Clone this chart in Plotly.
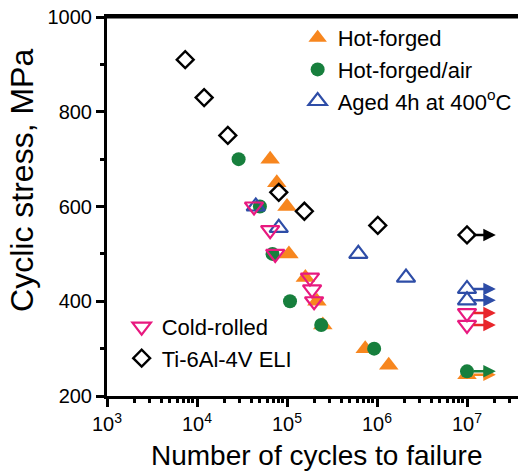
import numpy as np
import plotly.graph_objects as go

# ---------------- data ----------------
# Hot-forged (filled orange triangles)
hf_n = [6.5e4, 7.7e4, 1.0e5, 1.05e5, 1.6e5, 2.15e5, 2.5e5, 7.4e5, 1.35e6, 1.0e7]
hf_s = [700, 650, 600, 500, 450, 400, 350, 300, 265, 245]
hf_runout = [False, False, False, False, False, False, False, False, False, True]

# Hot-forged/air (filled green circles)
hfa_n = [2.9e4, 5.0e4, 6.9e4, 1.08e5, 2.4e5, 9.3e5, 1.0e7]
hfa_s = [700, 600, 500, 400, 350, 300, 252]
hfa_runout = [False, False, False, False, False, False, True]

# Aged 4h at 400 C (open blue triangles)
ag_n = [4.5e4, 8.1e4, 6.2e5, 2.1e6, 1.0e7, 1.0e7]
ag_s = [600, 555, 500, 450, 426, 402]
ag_runout = [False, False, False, False, True, True]

# Cold-rolled (open pink inverted triangles)
cr_n = [4.3e4, 6.5e4, 7.4e4, 1.8e5, 1.9e5, 2.0e5, 1.0e7, 1.0e7]
cr_s = [600, 550, 500, 450, 425, 400, 375, 350]
cr_runout = [False, False, False, False, False, False, True, True]

# Ti-6Al-4V ELI (open black diamonds)
ti_n = [7.4e3, 1.2e4, 2.2e4, 8.1e4, 1.56e5, 1.02e6, 1.0e7]
ti_s = [910, 830, 750, 630, 590, 560, 540]
ti_runout = [False, False, False, False, False, False, True]

x_tick_vals = [1e3, 1e4, 1e5, 1e6, 1e7]
x_tick_text = ["10<sup>3</sup>", "10<sup>4</sup>", "10<sup>5</sup>", "10<sup>6</sup>", "10<sup>7</sup>"]
y_tick_vals = [200, 400, 600, 800, 1000]
x_title = "Number of cycles to failure"
y_title = "Cyclic stress, MPa"

# ---------------- styles ----------------
ORANGE = "#F7861E"
GREEN = "#177F3D"
BLUE = "#2E4DA7"
PINK = "#E8197F"
RED = "#E8262B"
BLACK = "#000000"
FONT = "Liberation Sans, Arial, sans-serif"
ARROW_DECADES = 0.32

fig = go.Figure()

series = [
    ("Hot-forged", hf_n, hf_s, dict(symbol="triangle-up", size=17, color=ORANGE), "legend"),
    ("Hot-forged/air", hfa_n, hfa_s, dict(symbol="circle", size=14, color=GREEN), "legend"),
    ("Aged 4h at 400<sup>o</sup>C", ag_n, ag_s,
     dict(symbol="triangle-up-open", size=16, color=BLUE, line=dict(width=2.2, color=BLUE)), "legend"),
    ("Cold-rolled", cr_n, cr_s,
     dict(symbol="triangle-down-open", size=16, color=PINK, line=dict(width=2.2, color=PINK)), "legend2"),
    ("Ti-6Al-4V ELI", ti_n, ti_s,
     dict(symbol="diamond-open", size=13, color=BLACK, line=dict(width=2.4, color=BLACK)), "legend2"),
]

for name, xs, ys, mk, lg in series:
    fig.add_trace(go.Scatter(x=xs, y=ys, mode="markers", name=name, marker=mk,
                             legend=lg, cliponaxis=False))

# run-out arrows
runouts = [
    (hf_n, hf_s, hf_runout, ORANGE),
    (hfa_n, hfa_s, hfa_runout, GREEN),
    (ag_n, ag_s, ag_runout, BLUE),
    (cr_n, cr_s, cr_runout, RED),
    (ti_n, ti_s, ti_runout, BLACK),
]
annotations = []
for xs, ys, flags, col in runouts:
    for xv, yv, f in zip(xs, ys, flags):
        if f:
            lx = float(np.log10(xv))
            annotations.append(dict(
                x=lx + ARROW_DECADES, y=yv, ax=lx, ay=yv,
                xref="x", yref="y", axref="x", ayref="y",
                showarrow=True, arrowhead=2, arrowsize=1.0, arrowwidth=2.5,
                arrowcolor=col, startstandoff=5, text=""))

# axis titles as annotations (the y title sits above the axis centre)
annotations.append(dict(text=x_title, xref="paper", yref="paper", x=0.5, y=-0.156,
                        xanchor="center", yanchor="middle", showarrow=False,
                        font=dict(size=28, family=FONT, color="black")))
annotations.append(dict(text=y_title, xref="paper", yref="paper", x=-0.203, y=0.57,
                        xanchor="center", yanchor="middle", showarrow=False, textangle=-90,
                        font=dict(size=32, family=FONT, color="black")))

# the page body adds an 8 px offset, so the figure is 8 px smaller / margins 8 px less
fig.update_layout(
    width=518, height=463,
    margin=dict(l=99, r=0, t=9, b=75, autoexpand=False),
    paper_bgcolor="white", plot_bgcolor="white",
    font=dict(family=FONT, color="black", size=20),
    annotations=annotations,
    shapes=[dict(type="line", xref="paper", yref="paper", x0=0, x1=1, y0=1, y1=1,
                 line=dict(color="black", width=3))],
    legend=dict(x=0.455, y=1.0, xanchor="left", yanchor="top",
                bgcolor="rgba(0,0,0,0)", font=dict(size=22, family=FONT),
                itemsizing="trace", tracegroupgap=0),
    legend2=dict(x=0.035, y=0.238, xanchor="left", yanchor="top",
                 bgcolor="rgba(0,0,0,0)", font=dict(size=22, family=FONT),
                 itemsizing="trace", tracegroupgap=0),
    showlegend=True,
)

fig.update_xaxes(
    type="log", range=[3, 3 + 419 / 90], showgrid=False, zeroline=False,
    showline=True, linewidth=3, linecolor="black", mirror=True, automargin=False,
    ticks="outside", ticklen=8, tickwidth=3, tickcolor="black",
    tickvals=x_tick_vals, ticktext=x_tick_text, ticklabeloverflow="allow",
    tickfont=dict(size=20),
    minor=dict(ticks="outside", ticklen=4, tickwidth=3, tickcolor="black", dtick="D1"),
)
fig.update_yaxes(
    range=[200, 1000], showgrid=False, zeroline=False,
    showline=True, linewidth=3, linecolor="black", mirror=False, automargin=False,
    ticks="outside", ticklen=8, tickwidth=3, tickcolor="black",
    tickvals=y_tick_vals, tickfont=dict(size=20), ticklabeloverflow="allow",
    minor=dict(ticks="outside", ticklen=4, tickwidth=3, tickcolor="black", dtick=100),
)

fig.write_html("out.html")
